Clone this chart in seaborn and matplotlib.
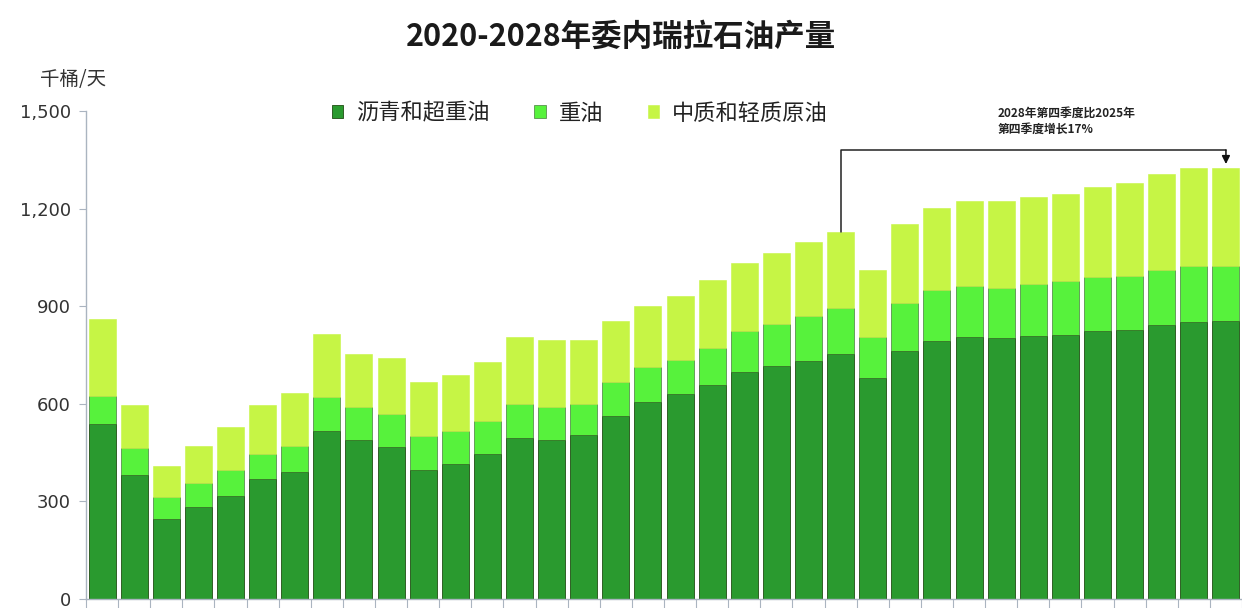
import pandas as pd
import matplotlib.pyplot as plt
import matplotlib.ticker as mticker
import seaborn as sns

# 2020Q1 ... 2028Q4
quarters = [f'{y}Q{q}' for y in range(2020, 2029) for q in range(1, 5)]

# 千桶/天
bitumen = [539, 381, 246, 283, 318, 369, 389, 515, 490, 466, 395, 416,
           446, 495, 489, 505, 562, 606, 629, 659, 698, 715, 733, 752,
           679, 762, 792, 805, 802, 808, 811, 825, 828, 842, 851, 855]
heavy = [86, 83, 68, 74, 78, 78, 81, 105, 99, 103, 105, 100,
         101, 105, 100, 95, 105, 107, 107, 114, 125, 131, 136, 144,
         126, 148, 158, 156, 155, 160, 166, 164, 164, 170, 174, 170]
light = [237, 131, 96, 114, 134, 148, 163, 196, 163, 172, 168, 172,
         183, 205, 206, 195, 186, 188, 196, 209, 209, 217, 227, 232,
         207, 243, 252, 262, 266, 268, 267, 276, 287, 294, 300, 300]

series_names = ['沥青和超重油', '重油', '中质和轻质原油']
yticks = [0, 300, 600, 900, 1200, 1500]

df = pd.DataFrame({'quarter': quarters, 'bitumen': bitumen,
                   'heavy': heavy, 'light': light})
df['mid'] = df['bitumen'] + df['heavy']
df['total'] = df['mid'] + df['light']

sns.set_style('white')
plt.rcParams['font.family'] = ['Noto Sans CJK SC', 'DejaVu Sans']

fig = plt.figure(figsize=(12.42, 6.08), dpi=100)
ax = fig.add_axes([86 / 1242, 9 / 608, 1156 / 1242, (599 - 111) / 608])

colors = ['#2a9a2f', '#57f23c', '#c6f545']
edge = '#2f5f25'
sns.barplot(data=df, x='quarter', y='bitumen', color=colors[0], width=0.84,
            edgecolor=edge, linewidth=0.7, saturation=1, errorbar=None,
            label=series_names[0], ax=ax)
sns.barplot(data=df, x='quarter', y='heavy', bottom=df['bitumen'], color=colors[1],
            width=0.84, edgecolor=edge, linewidth=0.4, saturation=1, errorbar=None,
            label=series_names[1], ax=ax)
sns.barplot(data=df, x='quarter', y='light', bottom=df['mid'], color=colors[2],
            width=0.84, edgecolor='#c6f545', linewidth=0.4, saturation=1, errorbar=None,
            label=series_names[2], ax=ax)

ax.set_xlim(-0.5, len(quarters) - 0.52)
ax.set_ylim(0, 1500)
ax.set_yticks(yticks)
ax.yaxis.set_major_formatter(mticker.FuncFormatter(lambda v, p: f'{v:,.0f}'))
ax.set_xlabel('')
ax.set_ylabel('')
ax.set_xticks([])
ax.set_xticks([i + 0.5 for i in range(-1, len(quarters))], minor=True)
ax.tick_params(axis='x', which='minor', bottom=True, length=8, width=0.8,
               color='#aab4c0', direction='out')
ax.tick_params(axis='y', left=True, length=5, width=0.8, color='#aab4c0', direction='out',
               labelsize=13, labelcolor='#333333', pad=6)
for lab in ax.get_yticklabels():
    lab.set_fontfamily('DejaVu Sans')

sns.despine(ax=ax, top=True, right=True)
ax.spines['left'].set_color('#aab4c0')
ax.spines['bottom'].set_color('#aab4c0')
ax.spines['left'].set_linewidth(1)
ax.spines['bottom'].set_linewidth(1)

# 括号标注: 2025Q4 -> 2028Q4
i0 = quarters.index('2025Q4')
i1 = quarters.index('2028Q4')
top_y = 1380
ax.plot([i0, i0, i1], [df['total'][i0], top_y, top_y], color='#222222', lw=1.1)
ax.annotate('', xy=(i1, df['total'][i1] + 12), xytext=(i1, top_y),
            arrowprops=dict(arrowstyle='-|>', color='#111111', lw=1.1,
                            mutation_scale=12, shrinkA=0, shrinkB=0))
fig.text(998 / 1242, 1 - 121 / 608, '2028年第四季度比2025年\n第四季度增长17%',
         fontsize=8.5, fontweight='bold', color='#222222', va='center', ha='left',
         linespacing=1.3)

handles, labels = ax.get_legend_handles_labels()
if ax.legend_:
    ax.legend_.remove()
fig.legend(handles, labels, loc='center', bbox_to_anchor=(580 / 1242, 1 - 113 / 608),
           ncol=3, frameon=False, prop={'size': 16, 'weight': 'light'},
           handlelength=0.5, handleheight=0.5,
           handletextpad=0.6, columnspacing=2.0, labelcolor='#222222')

fig.text(0.5, 1 - 37 / 608, '2020-2028年委内瑞拉石油产量', ha='center', va='center',
         fontsize=22, fontweight='bold', color='#1a1a1a')
fig.text(40 / 1242, 1 - 80 / 608, '千桶/天', ha='left', va='center',
         fontsize=14, fontweight='light', color='#333333')

fig.savefig('out.png', dpi=100)
